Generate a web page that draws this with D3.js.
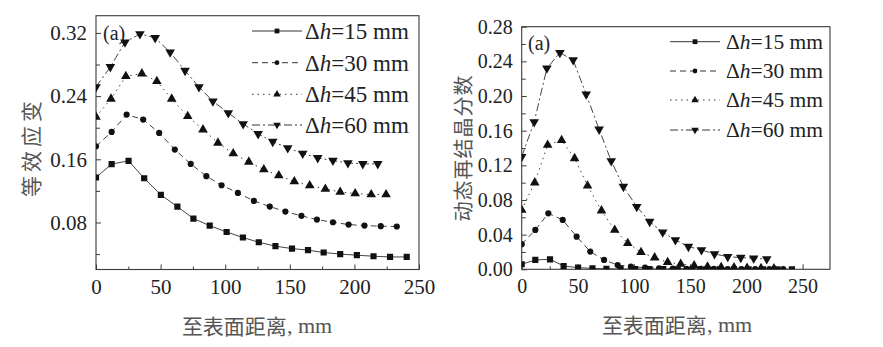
<!DOCTYPE html>
<html>
<head>
<meta charset="utf-8">
<script src="https://cdn.jsdelivr.net/npm/d3@7"></script>
<style>
  html, body { margin: 0; padding: 0; background: #fff; }
  svg { display: block; }
</style>
</head>
<body>
<svg id="chart" width="883" height="347"></svg>
<script>
// ---------------- DATA ----------------
const seriesNames = ["15", "30", "45", "60"];

// distance from surface (mm) for each series
const dist15 = [0, 12.1, 25.2, 37.3, 50.2, 63.0, 75.4, 88.0, 101.1, 113.7, 126.0, 138.9, 151.7, 164.1, 176.2, 189.0, 201.9, 214.8, 227.6, 240.5];
const dist30 = [0, 12.1, 23.7, 36.5, 48.9, 61.0, 73.3, 85.4, 97.2, 109.8, 122.2, 134.5, 146.6, 159.0, 171.0, 183.4, 195.5, 207.8, 220.4, 232.8];
const dist45 = [0, 11.6, 23.1, 35.5, 47.1, 58.6, 71.0, 82.8, 94.4, 106.2, 118.3, 129.9, 141.5, 153.5, 165.4, 177.5, 189.0, 200.6, 213.0, 224.5];
const dist60 = [0, 11.1, 22.4, 34.0, 45.8, 57.4, 68.9, 79.7, 90.5, 102.4, 113.9, 125.5, 136.8, 148.4, 160.0, 171.6, 183.4, 195.0, 206.5, 218.1];

// (left) equivalent strain
const strain15 = [0.137, 0.154, 0.158, 0.136, 0.115, 0.100, 0.085, 0.076, 0.068, 0.061, 0.055, 0.050, 0.047, 0.045, 0.042, 0.040, 0.0386, 0.0373, 0.0364, 0.0364];
const strain30 = [0.1765, 0.1947, 0.2166, 0.2103, 0.1934, 0.1723, 0.1542, 0.1386, 0.1272, 0.1175, 0.1073, 0.1002, 0.0938, 0.0884, 0.0837, 0.0803, 0.0774, 0.0761, 0.0753, 0.0749];
const strain45 = [0.2137, 0.2365, 0.2651, 0.2685, 0.2588, 0.2365, 0.2145, 0.1976, 0.1808, 0.1673, 0.1567, 0.147, 0.1394, 0.1318, 0.1268, 0.1225, 0.1187, 0.1166, 0.1154, 0.1154];
const strain60 = [0.2516, 0.277, 0.3082, 0.3187, 0.3137, 0.2955, 0.2723, 0.2516, 0.2335, 0.2187, 0.2048, 0.1922, 0.1824, 0.1744, 0.1673, 0.1618, 0.1584, 0.1554, 0.1542, 0.1542];

// (right) dynamic recrystallization fraction
const drx15 = [0.0058, 0.0108, 0.0115, 0.0038, 0.0019, 0.0010, 0.0006, 0.0004, 0.0003, 0.0002, 0.0002, 0.0001, 0.0001, 0.0001, 0.0001, 0.0001, 0.0001, 0.0001, 0.0001, 0.0001];
const drx30 = [0.029, 0.0454, 0.0646, 0.057, 0.0377, 0.0204, 0.0108, 0.005, 0.003, 0.0019, 0.0012, 0.0008, 0.0006, 0.0005, 0.0004, 0.0003, 0.0003, 0.0002, 0.0002, 0.0002];
const drx45 = [0.0685, 0.100, 0.1435, 0.149, 0.128, 0.0965, 0.0677, 0.0454, 0.030, 0.0196, 0.0135, 0.0081, 0.0062, 0.0042, 0.003, 0.0023, 0.0019, 0.0015, 0.0012, 0.001];
const drx60 = [0.130, 0.170, 0.232, 0.250, 0.2415, 0.202, 0.1615, 0.125, 0.0954, 0.0723, 0.055, 0.0427, 0.0338, 0.0262, 0.0223, 0.0177, 0.0146, 0.0135, 0.0127, 0.0119];

const xTicks = [0, 50, 100, 150, 200, 250];
const xMinorTicks = [25, 75, 125, 175, 225];
const leftYTicks = [0.08, 0.16, 0.24, 0.32];
const leftYMinorTicks = [0.04, 0.12, 0.20, 0.28];
const rightYTicks = [0.00, 0.04, 0.08, 0.12, 0.16, 0.20, 0.24, 0.28];
const rightYMinorTicks = [0.02, 0.06, 0.10, 0.14, 0.18, 0.22, 0.26];

const xTitle = "至表面距离";
const leftYTitle = "等效应变";
const rightYTitle = "动态再结晶分数";

// ---------------- DRAWING ----------------
const svg = d3.select("#chart");
svg.append("rect").attr("width", 883).attr("height", 347).attr("fill", "#fff");

const serif = "'Liberation Serif', 'Times New Roman', serif";
const cjk = "'Noto Sans CJK SC', 'Noto Sans CJK JP', sans-serif";
const lineCol = "#3a3a3a";
const dashes = [null, "6,4", "1.5,4", "8,3,2,3"];
const symbols = [d3.symbolSquare, d3.symbolCircle, d3.symbolTriangle, d3.symbolTriangle];
const rotations = [0, 0, 0, 180];
const symSizes = [38, 30, 40, 40];

function panel(cfg) {
  const g = svg.append("g");
  const x = d3.scaleLinear().domain(cfg.xDomain).range(cfg.xRange);
  const y = d3.scaleLinear().domain(cfg.yDomain).range(cfg.yRange);
  const [x0, x1] = cfg.xRange;
  const [y0, y1] = cfg.yRange; // y0 bottom, y1 top

  // clip
  const clipId = "clip" + cfg.id;
  svg.append("clipPath").attr("id", clipId).append("rect")
    .attr("x", x0).attr("y", y1).attr("width", x1 - x0).attr("height", y0 - y1);

  // axes via d3 axes (inward ticks)
  const xAxis = d3.axisBottom(x).tickValues(xTicks).tickSizeInner(-5).tickSizeOuter(0).tickPadding(10)
    .tickFormat(d3.format("d"));
  const gx = g.append("g").attr("transform", `translate(0,${y0})`).call(xAxis);
  const xMinor = d3.axisBottom(x).tickValues(xMinorTicks).tickSizeInner(-3).tickSizeOuter(0).tickFormat("");
  const gxm = g.append("g").attr("transform", `translate(0,${y0})`).call(xMinor);

  const yAxis = d3.axisLeft(y).tickValues(cfg.yTicks).tickSizeInner(-5).tickSizeOuter(0).tickPadding(cfg.yPad)
    .tickFormat(d3.format(".2f"));
  const gy = g.append("g").attr("transform", `translate(${x0},0)`).call(yAxis);
  const yMinor = d3.axisLeft(y).tickValues(cfg.yMinor).tickSizeInner(-4).tickSizeOuter(0).tickFormat("");
  const gym = g.append("g").attr("transform", `translate(${x0},0)`).call(yMinor);

  [gx, gxm, gy, gym].forEach(a => {
    a.select(".domain").remove();
    a.selectAll("line").attr("stroke", lineCol).attr("stroke-width", 1);
    a.selectAll("text").attr("font-family", serif).attr("font-size", cfg.tickFont).attr("fill", "#222");
  });

  // frame
  g.append("rect").attr("x", x0).attr("y", y1).attr("width", x1 - x0).attr("height", y0 - y1)
    .attr("fill", "none").attr("stroke", lineCol).attr("stroke-width", 1.1);

  // series
  const plot = g.append("g").attr("clip-path", `url(#${clipId})`);
  cfg.series.forEach((s, i) => {
    const pts = s.x.map((d, j) => [d, s.y[j]]);
    plot.append("path").datum(pts)
      .attr("d", d3.line().x(d => x(d[0])).y(d => y(d[1])))
      .attr("fill", "none").attr("stroke", "#444").attr("stroke-width", 1)
      .attr("stroke-dasharray", dashes[i]);
  });
  cfg.series.forEach((s, i) => {
    const pts = s.x.map((d, j) => [d, s.y[j]]);
    plot.selectAll(null).data(pts).enter().append("path")
      .attr("d", d3.symbol().type(symbols[i]).size(symSizes[i]))
      .attr("transform", d => `translate(${x(d[0])},${y(d[1])}) rotate(${rotations[i]})`)
      .attr("fill", "#111");
  });

  // panel label
  g.append("text").attr("x", cfg.aPos[0]).attr("y", cfg.aPos[1])
    .attr("font-family", serif).attr("font-size", cfg.aFont).attr("fill", "#222")
    .attr("dominant-baseline", "central").text("(a)");

  // legend
  const lg = g.append("g");
  seriesNames.forEach((nm, i) => {
    const ly = cfg.legY[i];
    lg.append("line").attr("x1", cfg.legX[0]).attr("x2", cfg.legX[1]).attr("y1", ly).attr("y2", ly)
      .attr("stroke", "#333").attr("stroke-width", 1).attr("stroke-dasharray", dashes[i]);
    lg.append("path").attr("d", d3.symbol().type(symbols[i]).size(symSizes[i] * 0.6))
      .attr("transform", `translate(${(cfg.legX[0] + cfg.legX[1]) / 2},${ly}) rotate(${rotations[i]})`)
      .attr("fill", "#111");
    const t = lg.append("text").attr("x", cfg.legText).attr("y", ly)
      .attr("dominant-baseline", "central").attr("font-family", serif)
      .attr("font-size", cfg.legFont).attr("fill", "#222");
    t.append("tspan").text("Δ");
    t.append("tspan").attr("font-style", "italic").text("h");
    t.append("tspan").text("=" + nm + " mm");
  });

  // axis titles
  const xt = g.append("text").attr("x", cfg.xTitlePos[0]).attr("y", cfg.xTitlePos[1])
    .attr("text-anchor", "middle").attr("dominant-baseline", "central").attr("fill", "#555");
  xt.append("tspan").attr("font-family", cjk).attr("font-size", 21).text(xTitle);
  xt.append("tspan").attr("font-family", serif).attr("font-size", 22).text(", mm");

  g.append("text")
    .attr("transform", `translate(${cfg.yTitlePos[0]},${cfg.yTitlePos[1]}) rotate(-90)`)
    .attr("text-anchor", "middle").attr("dominant-baseline", "central")
    .attr("font-family", cjk).attr("font-size", cfg.yTitleFont).attr("fill", "#555")
    .attr("letter-spacing", cfg.yTitleSpacing)
    .text(cfg.yTitle);
}

panel({
  id: "L",
  xDomain: [0, 250], xRange: [96, 419],
  yDomain: [0.0205, 0.3418], yRange: [269.5, 15.7],
  yTicks: leftYTicks, yMinor: leftYMinorTicks, yPad: 9,
  tickFont: 21,
  series: [
    { x: dist15, y: strain15 },
    { x: dist30, y: strain30 },
    { x: dist45, y: strain45 },
    { x: dist60, y: strain60 }
  ],
  aPos: [103, 33], aFont: 20,
  legX: [252, 302], legY: [31, 62.7, 94.3, 125], legText: 305, legFont: 23,
  xTitlePos: [257, 325],
  yTitle: leftYTitle, yTitlePos: [30, 147], yTitleFont: 21, yTitleSpacing: 4
});

panel({
  id: "R",
  xDomain: [0, 274.4], xRange: [521.7, 830],
  yDomain: [0, 0.28], yRange: [269.3, 26.7],
  yTicks: rightYTicks, yMinor: rightYMinorTicks, yPad: 9,
  tickFont: 20,
  series: [
    { x: dist15, y: drx15 },
    { x: dist30, y: drx30 },
    { x: dist45, y: drx45 },
    { x: dist60, y: drx60 }
  ],
  aPos: [528, 43], aFont: 20,
  legX: [670, 720], legY: [41.7, 71, 100, 130], legText: 726, legFont: 21.5,
  xTitlePos: [677, 324],
  yTitle: rightYTitle, yTitlePos: [462, 148], yTitleFont: 20, yTitleSpacing: 1
});
</script>
</body>
</html>
